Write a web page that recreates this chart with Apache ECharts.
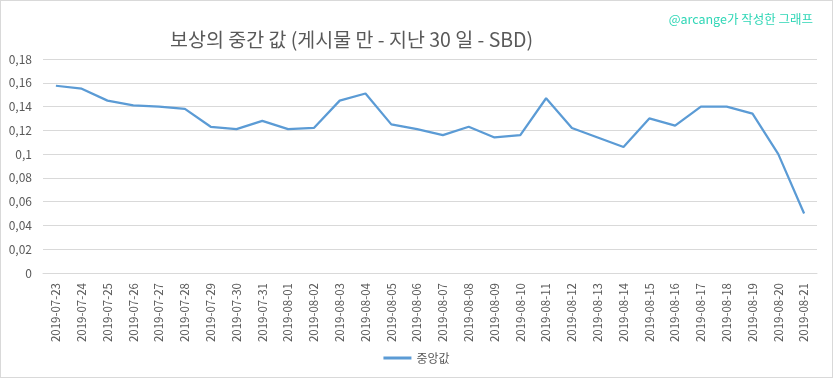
<!DOCTYPE html>
<html>
<head>
<meta charset="utf-8">
<script src="https://cdn.jsdelivr.net/npm/echarts@6/dist/echarts.min.js"></script>
<style>
  html, body { margin: 0; padding: 0; background: #fff; }
  #chart { width: 833px; height: 378px; box-sizing: border-box; border: 1px solid #d9d9d9; }
</style>
</head>
<body>
<div id="chart"></div>
<script>
const dates = [
  '2019-07-23', '2019-07-24', '2019-07-25', '2019-07-26', '2019-07-27', '2019-07-28',
  '2019-07-29', '2019-07-30', '2019-07-31', '2019-08-01', '2019-08-02', '2019-08-03',
  '2019-08-04', '2019-08-05', '2019-08-06', '2019-08-07', '2019-08-08', '2019-08-09',
  '2019-08-10', '2019-08-11', '2019-08-12', '2019-08-13', '2019-08-14', '2019-08-15',
  '2019-08-16', '2019-08-17', '2019-08-18', '2019-08-19', '2019-08-20', '2019-08-21'
];
const median = [
  0.1575, 0.155, 0.145, 0.141, 0.140, 0.138,
  0.123, 0.121, 0.128, 0.121, 0.122, 0.145,
  0.151, 0.125, 0.121, 0.116, 0.123, 0.114,
  0.116, 0.147, 0.122, 0.114, 0.106, 0.130,
  0.124, 0.140, 0.140, 0.134, 0.100, 0.050
];
const titleText = '보상의 중간 값 (게시물 만 - 지난 30 일 - SBD)';
const creditText = '@arcange가 작성한 그래프';
const seriesName = '중앙값';

const font = "'Noto Sans CJK KR', 'Noto Sans', sans-serif";
const chart = echarts.init(document.getElementById('chart'));
chart.setOption({
  animation: false,
  textStyle: { fontFamily: font },
  title: [
    {
      text: titleText, left: 164, top: 24,
      textStyle: { fontSize: 19.5, fontWeight: 'normal', color: '#595959', fontFamily: font }
    },
    {
      text: creditText, right: 14, top: 7,
      textStyle: { fontSize: 12.5, fontWeight: 'normal', color: '#2fd6b6', fontFamily: font }
    }
  ],
  legend: {
    bottom: 8, left: 'center',
    itemWidth: 28, itemHeight: 3, itemGap: 6,
    icon: 'rect',
    textStyle: { fontSize: 12, color: '#595959' },
    data: [seriesName]
  },
  grid: { left: 42, right: 15, top: 58, bottom: 104, containLabel: false },
  xAxis: {
    type: 'category',
    data: dates,
    boundaryGap: true,
    axisLine: { lineStyle: { color: '#d9d9d9' } },
    axisTick: { show: false },
    axisLabel: { rotate: 90, interval: 0, fontSize: 11.5, color: '#595959', margin: 10 }
  },
  yAxis: {
    type: 'value',
    min: 0, max: 0.18, interval: 0.02,
    axisLine: { show: false },
    axisTick: { show: false },
    splitLine: { lineStyle: { color: '#d9d9d9' } },
    axisLabel: {
      fontSize: 12, color: '#595959', margin: 11,
      formatter: v => String(Math.round(v * 100) / 100).replace('.', ',')
    }
  },
  series: [{
    name: seriesName,
    type: 'line',
    data: median,
    symbol: 'none',
    lineStyle: { color: '#5b9bd5', width: 2.25 },
    itemStyle: { color: '#5b9bd5' }
  }]
});
</script>
</body>
</html>
